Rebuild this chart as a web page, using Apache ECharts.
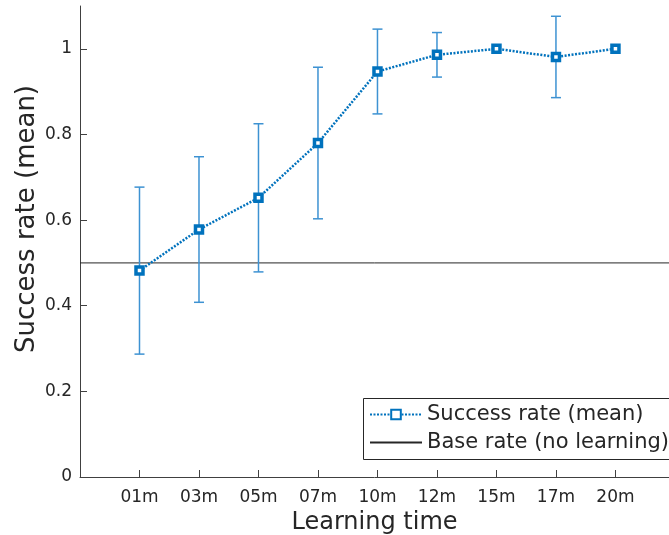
<!DOCTYPE html>
<html>
<head>
<meta charset="utf-8">
<script src="https://cdn.jsdelivr.net/npm/echarts@6/dist/echarts.min.js"></script>
<style>
  html, body { margin: 0; padding: 0; background: #fff; }
  #chart { width: 669px; height: 535px; }
</style>
</head>
<body>
<div id="chart"></div>
<script>
// Learning-time categories and measured success rates
const categories = ['01m', '03m', '05m', '07m', '10m', '12m', '15m', '17m', '20m'];
const meanRate = [0.482, 0.578, 0.652, 0.780, 0.947, 0.986, 1.0, 0.981, 1.0];
const errRate = [0.195, 0.170, 0.173, 0.177, 0.099, 0.052, 0.0, 0.095, 0.0];
const baseRate = 0.5;
const yTicks = [0, 0.2, 0.4, 0.6, 0.8, 1];

const xPos = categories.map((c, i) => i + 1);
const meanData = categories.map((c, i) => [xPos[i], meanRate[i]]);
const errData = categories.map((c, i) => [xPos[i], meanRate[i] - errRate[i], meanRate[i] + errRate[i]]);

const textColor = '#262626';
const axisColor = '#404040';
const blue = '#0072BD';
const errBlue = '#3d92d2';
const font = 'DejaVu Sans';

const chart = echarts.init(document.getElementById('chart'), null, { renderer: 'canvas' });

chart.setOption({
  animation: false,
  textStyle: { fontFamily: font },
  grid: { left: 80, top: 6, right: 0, bottom: 58, outerBoundsMode: 'none', containLabel: false },
  xAxis: {
    type: 'value',
    min: 0,
    max: 9.9,
    name: 'Learning time',
    nameLocation: 'middle',
    nameGap: 32,
    nameTextStyle: { fontSize: 24, color: textColor, fontFamily: font },
    axisLine: { show: true, onZero: false, lineStyle: { color: axisColor, width: 1 } },
    axisTick: { show: true, inside: true, length: 7, customValues: xPos, lineStyle: { color: axisColor } },
    axisLabel: {
      customValues: xPos,
      fontSize: 17, color: textColor, margin: 12, fontFamily: font,
      formatter: v => categories[Math.round(v) - 1] || ''
    },
    splitLine: { show: false }
  },
  yAxis: {
    type: 'value',
    min: 0,
    max: 1.1,
    axisLine: { show: true, lineStyle: { color: axisColor, width: 1 } },
    axisTick: { show: true, inside: true, length: 7, customValues: yTicks, lineStyle: { color: axisColor } },
    axisLabel: {
      customValues: yTicks,
      fontSize: 17, color: textColor, margin: 8, fontFamily: font,
      formatter: v => String(Math.round(v * 10) / 10)
    },
    splitLine: { show: false }
  },
  graphic: [
    {
      type: 'text',
      x: 27,
      y: 219,
      rotation: Math.PI / 2,
      style: {
        text: 'Success rate (mean)',
        font: '26px "DejaVu Sans"',
        fill: textColor,
        textAlign: 'center',
        textVerticalAlign: 'middle'
      }
    },
    {
      // legend frame, running past the right edge of the canvas
      type: 'rect',
      z: 5,
      shape: { x: 363.5, y: 398.5, width: 340, height: 61 },
      style: { fill: '#fff', stroke: textColor, lineWidth: 1 }
    }
  ],
  legend: {
    orient: 'vertical',
    left: 363,
    top: 398,
    z: 10,
    padding: [6, 6, 6, 6],
    itemGap: 7,
    itemWidth: 52,
    itemHeight: 12,
    textStyle: { fontSize: 21, color: textColor, fontFamily: font },
    data: [
      'Success rate (mean)',
      { name: 'Base rate (no learning)', itemStyle: { opacity: 0 } }
    ]
  },
  series: [
    {
      name: 'Base rate (no learning)',
      type: 'line',
      data: [[0, baseRate], [9.9, baseRate]],
      symbol: 'none',
      lineStyle: { color: textColor, width: 1 },
      itemStyle: { color: textColor },
      z: 1
    },
    {
      name: 'errorbars',
      type: 'custom',
      data: errData,
      renderItem: (params, api) => {
        const x = api.value(0);
        const lo = api.coord([x, api.value(1)]);
        const hi = api.coord([x, api.value(2)]);
        const cap = 5;
        const style = { stroke: errBlue, lineWidth: 1.5 };
        if (Math.abs(hi[1] - lo[1]) < 1) return { type: 'group', children: [] };
        return {
          type: 'group',
          children: [
            { type: 'line', shape: { x1: lo[0], y1: lo[1], x2: hi[0], y2: hi[1] }, style },
            { type: 'line', shape: { x1: lo[0] - cap, y1: lo[1], x2: lo[0] + cap, y2: lo[1] }, style },
            { type: 'line', shape: { x1: hi[0] - cap, y1: hi[1], x2: hi[0] + cap, y2: hi[1] }, style }
          ]
        };
      },
      z: 2,
      silent: true
    },
    {
      name: 'Success rate (mean)',
      type: 'line',
      data: meanData,
      symbol: 'rect',
      symbolSize: 7,
      lineStyle: { color: blue, width: 2.5, type: [2, 1.5] },
      itemStyle: { color: '#fff', borderColor: blue, borderWidth: 3.5 },
      z: 3
    }
  ]
});
</script>
</body>
</html>
